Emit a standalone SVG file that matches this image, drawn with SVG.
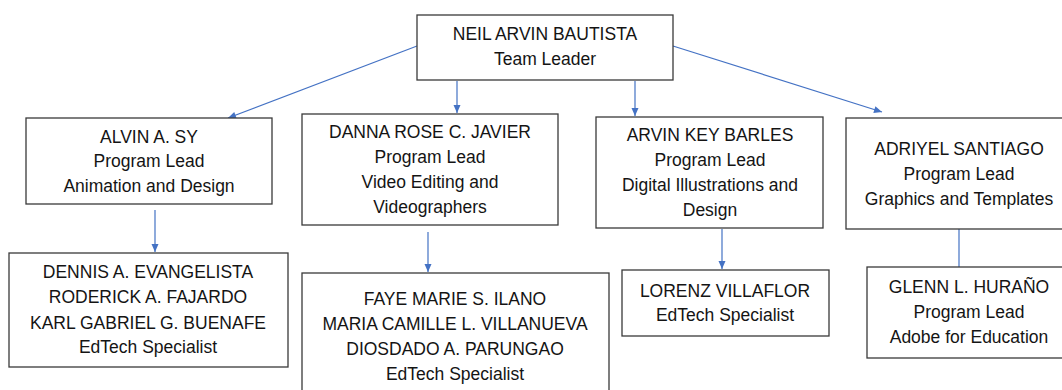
<svg xmlns="http://www.w3.org/2000/svg" width="1062" height="390" viewBox="0 0 1062 390">
<style>
.box{fill:#fff;stroke:#3a3a3a;stroke-width:1.3}
.t{font-family:"Liberation Sans",Arial,sans-serif;font-size:17.5px;fill:#141414;text-anchor:middle}
.c{stroke:#4472C4;stroke-width:1.2;fill:none}
.a{marker-end:url(#ah)}
</style>
<defs>
<marker id="ah" markerUnits="userSpaceOnUse" markerWidth="10" markerHeight="10" viewBox="0 0 10 10" refX="9" refY="5" orient="auto">
<path d="M1,1.5 L9,5 L1,8.5 Z" fill="#4472C4"/>
</marker>
</defs>
<rect width="1062" height="390" fill="#fff"/>
<g id="connectors">
<line class="c a" x1="417" y1="46" x2="228" y2="118"/>
<line class="c a" x1="457" y1="81" x2="457" y2="113"/>
<line class="c a" x1="635" y1="81" x2="635" y2="116"/>
<line class="c a" x1="673" y1="46" x2="882" y2="112"/>
<line class="c a" x1="155" y1="210" x2="155" y2="252"/>
<line class="c a" x1="428" y1="232" x2="428" y2="272"/>
<line class="c a" x1="722" y1="229" x2="722" y2="269"/>
<line class="c" x1="959" y1="229" x2="959" y2="267"/>
</g>
<g id="neil">
<rect class="box" x="417" y="15" width="256" height="65"/>
<text class="t" x="545" y="40">NEIL ARVIN BAUTISTA</text>
<text class="t" x="545" y="65">Team Leader</text>
</g>
<g id="alvin">
<rect class="box" x="26" y="118" width="246" height="86"/>
<text class="t" x="149" y="143">ALVIN A. SY</text>
<text class="t" x="149" y="167">Program Lead</text>
<text class="t" x="149" y="192">Animation and Design</text>
</g>
<g id="danna">
<rect class="box" x="302" y="114" width="256" height="111"/>
<text class="t" x="430" y="138">DANNA ROSE C. JAVIER</text>
<text class="t" x="430" y="163">Program Lead</text>
<text class="t" x="430" y="188">Video Editing and</text>
<text class="t" x="430" y="213">Videographers</text>
</g>
<g id="arvin">
<rect class="box" x="596" y="117" width="227" height="111"/>
<text class="t" x="710" y="141">ARVIN KEY BARLES</text>
<text class="t" x="710" y="166">Program Lead</text>
<text class="t" x="710" y="191">Digital Illustrations and</text>
<text class="t" x="710" y="216">Design</text>
</g>
<g id="adriyel">
<rect class="box" x="846" y="118" width="226" height="111"/>
<text class="t" x="959" y="155">ADRIYEL SANTIAGO</text>
<text class="t" x="959" y="180">Program Lead</text>
<text class="t" x="959" y="205">Graphics and Templates</text>
</g>
<g id="dennis">
<rect class="box" x="9" y="253" width="279" height="114"/>
<text class="t" x="148" y="278">DENNIS A. EVANGELISTA</text>
<text class="t" x="148" y="303">RODERICK A. FAJARDO</text>
<text class="t" x="148" y="329">KARL GABRIEL G. BUENAFE</text>
<text class="t" x="148" y="353">EdTech Specialist</text>
</g>
<g id="faye">
<rect class="box" x="302" y="273" width="307" height="130"/>
<text class="t" x="455" y="305">FAYE MARIE S. ILANO</text>
<text class="t" x="455" y="330">MARIA CAMILLE L. VILLANUEVA</text>
<text class="t" x="455" y="355">DIOSDADO A. PARUNGAO</text>
<text class="t" x="455" y="380">EdTech Specialist</text>
</g>
<g id="lorenz">
<rect class="box" x="622" y="270" width="207" height="66"/>
<text class="t" x="725" y="297">LORENZ VILLAFLOR</text>
<text class="t" x="725" y="321">EdTech Specialist</text>
</g>
<g id="glenn">
<rect class="box" x="867" y="267" width="205" height="91"/>
<text class="t" x="969" y="293">GLENN L. HURAÑO</text>
<text class="t" x="969" y="318">Program Lead</text>
<text class="t" x="969" y="343">Adobe for Education</text>
</g>
</svg>
